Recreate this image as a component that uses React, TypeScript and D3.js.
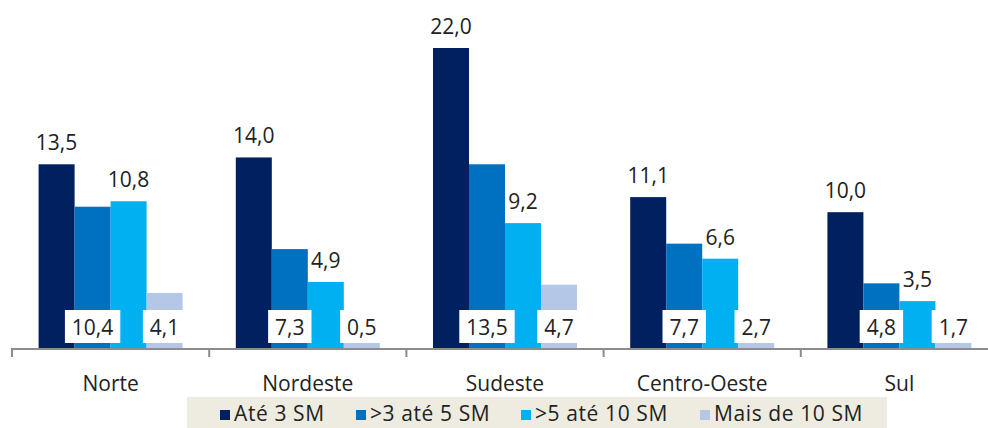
import React from "react";
import * as d3 from "d3";

const categories = ["Norte", "Nordeste", "Sudeste", "Centro-Oeste", "Sul"];
const seriesNames = ["Até 3 SM", ">3 até 5 SM", ">5 até 10 SM", "Mais de 10 SM"];
const ate3 = [13.5, 14.0, 22.0, 11.1, 10.0];
const de3a5 = [10.4, 7.3, 13.5, 7.7, 4.8];
const de5a10 = [10.8, 4.9, 9.2, 6.6, 3.5];
const mais10 = [4.1, 0.5, 4.7, 2.7, 1.7];
const seriesValues = [ate3, de3a5, de5a10, mais10];
const colors = ["#002060", "#0070C0", "#00B0F0", "#B4C7E7"];
const legendX = [220, 356, 521, 700];

const W = 988;
const H = 428;
const FONT = "'Open Sans', sans-serif";
const fmt = (v: number) => v.toFixed(1).replace(".", ",");

export default function App() {
  const base = 349;
  const x0 = d3.scaleBand<string>().domain(categories).range([12, 998]).padding(0);
  const x1 = d3
    .scaleBand<string>()
    .domain(seriesNames)
    .range([0, x0.bandwidth()])
    .paddingInner(0)
    .paddingOuter(0.739);
  const y = d3.scaleLinear().domain([0, 22]).range([base, 48]);

  const boxLabelW = (s: string) => {
    let w = 0;
    for (const ch of s) w += ch === "," ? 5.4 : 12;
    return w + 14;
  };

  return (
    <svg
      width={W}
      height={H}
      style={{ position: "absolute", left: 0, top: 0, background: "#fff" }}
      fontFamily={FONT}
    >
      {categories.map((c, ci) => (
        <g key={c} transform={`translate(${x0(c)},0)`}>
          {seriesNames.map((s, si) => {
            const v = seriesValues[si][ci];
            const bx = x1(s)!;
            const bw = x1.bandwidth();
            return (
              <rect
                key={s}
                x={bx}
                y={y(v)}
                width={bw}
                height={base - y(v)}
                fill={colors[si]}
              />
            );
          })}
          {seriesNames.map((s, si) => {
            const v = seriesValues[si][ci];
            const cx = x1(s)! + x1.bandwidth() / 2;
            const label = fmt(v);
            if (si === 0 || si === 2) {
              return (
                <text
                  key={s + "l"}
                  x={cx}
                  y={y(v) - 14}
                  textAnchor="middle"
                  fontSize={21}
                  fill="#222"
                >
                  {label}
                </text>
              );
            }
            const bwid = boxLabelW(label);
            return (
              <g key={s + "l"}>
                <rect x={cx - bwid / 2} y={310} width={bwid} height={33} fill="#fff" />
                <text
                  x={cx}
                  y={327}
                  textAnchor="middle"
                  dominantBaseline="central"
                  fontSize={21}
                  fill="#222"
                >
                  {label}
                </text>
              </g>
            );
          })}
          <text
            x={x0.bandwidth() / 2}
            y={383}
            textAnchor="middle"
            dominantBaseline="central"
            fontSize={21}
            fill="#222"
          >
            {c}
          </text>
        </g>
      ))}
      <line x1={11} x2={W} y1={base} y2={base} stroke="#8c8c8c" strokeWidth={2} />
      {categories.map((c) => (
        <line
          key={c + "t"}
          x1={x0(c)!}
          x2={x0(c)!}
          y1={base}
          y2={base + 8}
          stroke="#8c8c8c"
          strokeWidth={2}
        />
      ))}
      <rect x={187} y={397} width={700} height={31} fill="#EEECE1" />
      {seriesNames.map((s, si) => (
        <g key={s + "leg"}>
          <rect x={legendX[si]} y={410} width={10} height={10} fill={colors[si]} />
          <text
            x={legendX[si] + 14}
            y={413}
            dominantBaseline="central"
            fontSize={21}
            letterSpacing={0.6}
            fill="#222"
          >
            {s}
          </text>
        </g>
      ))}
    </svg>
  );
}
